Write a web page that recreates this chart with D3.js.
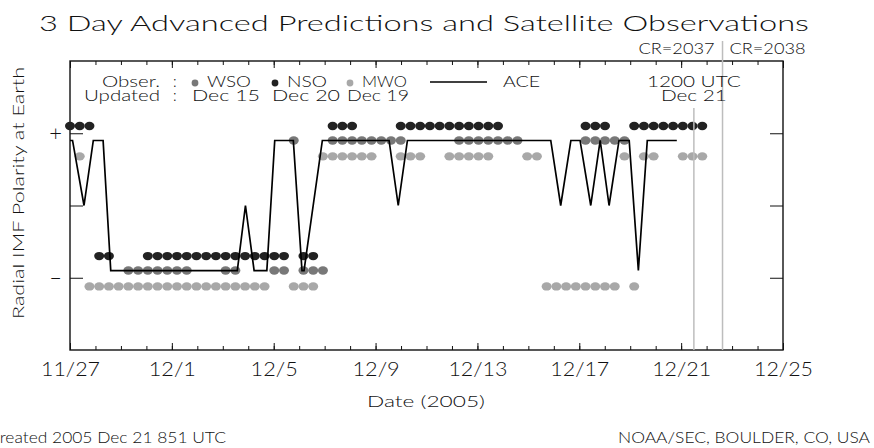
<!DOCTYPE html>
<html>
<head>
<meta charset="utf-8">
<script src="https://cdn.jsdelivr.net/npm/d3@7"></script>
<style>
  body { margin: 0; background: #fff; }
  svg { display: block; }
  text { font-family: "Lato", "DejaVu Sans", sans-serif; font-weight: 300; fill: #111; }
</style>
</head>
<body>
<svg id="chart" width="874" height="448"></svg>
<script>
// Time axis: 2005-11-27 00 UTC to 2005-12-25 00 UTC
const startDate = new Date(Date.UTC(2005, 10, 27));
const endDate = new Date(Date.UTC(2005, 11, 25));

// Observatory predictions, one value per 5-degree Carrington step starting at 11/27 00 UTC
// (+1 away / -1 toward, 0 = no prediction)
const sampleDays = 0.382;
const wsoPolarity = [
   0, 0, 0, 0, 0, 0,-1,-1,-1,-1,
  -1,-1,-1, 0, 0, 0,-1,-1, 0, 0,
   0,-1,-1, 1,-1,-1,-1, 1, 1, 1,
   1, 1, 1, 1, 1, 0, 0, 0, 0, 0,
   1, 1, 1, 1, 1, 1, 1, 0, 0, 0,
   0, 0, 0, 1, 1, 1, 1, 1, 0, 0,
   0, 0, 0, 0, 0, 0
];
const nsoPolarity = [
   1, 1, 1,-1,-1, 0, 0, 0,-1,-1,
  -1,-1,-1,-1,-1,-1,-1,-1,-1,-1,
  -1,-1,-1, 0,-1,-1, 0, 1, 1, 1,
   0, 0, 0, 0, 1, 1, 1, 1, 1, 1,
   1, 1, 1, 1, 1, 0, 0, 0, 0, 0,
   0, 0, 0, 1, 1, 1, 0, 0, 1, 1,
   1, 1, 1, 1, 1, 1
];
const mwoPolarity = [
   0, 1,-1,-1,-1,-1,-1,-1,-1,-1,
  -1,-1,-1,-1,-1,-1,-1,-1,-1,-1,
  -1, 0, 0,-1,-1,-1, 1, 1, 1, 1,
   1, 1, 0, 0, 1, 1, 1, 0, 0, 1,
   1, 1, 1, 1, 0, 0, 0, 1, 1,-1,
  -1,-1,-1,-1,-1,-1,-1, 1,-1, 1,
   1, 0, 0, 1, 1, 1
];

// ACE observed polarity: days after 11/27 00 UTC and polarity level
const aceDays = [0, 0.1, 0.55, 0.915, 1.30, 1.60, 6.57, 6.89, 7.23, 7.73, 8.04, 8.77, 9.11, 9.19, 9.91,
                 12.53, 12.89, 13.25, 18.88, 19.27, 19.67, 20.03, 20.45, 20.82, 21.17, 21.56, 21.96,
                 22.32, 22.67, 23.83];
const acePolarity = [0.9, 0.9, 0, 0.9, 0.9, -0.9, -0.9, 0, -0.9, -0.9, 0.9, 0.9, -0.9, -0.9, 0.9,
                     0.9, 0, 0.9, 0.9, 0, 0.9, 0.9, 0, 0.9, 0, 0.9, 0.9,
                     -0.9, 0.9, 0.9];

const tickDates = ["2005-11-27", "2005-12-01", "2005-12-05", "2005-12-09", "2005-12-13",
                   "2005-12-17", "2005-12-21", "2005-12-25"];
const nowTime = "2005-12-21T12:00";       // 1200 UTC Dec 21
const crBoundary = "2005-12-22T15:00";    // CR 2037 / CR 2038

const series = [
  { name: "WSO", values: wsoPolarity, color: "#787878", offset: 0,     updated: "Dec 15" },
  { name: "NSO", values: nsoPolarity, color: "#222222", offset: 0.2,   updated: "Dec 20" },
  { name: "MWO", values: mwoPolarity, color: "#a8a8a8", offset: -0.22, updated: "Dec 19" }
];

const svg = d3.select("#chart");
const L = 70, R = 783, T = 61, B = 350;
const x = d3.scaleUtc().domain([startDate, endDate]).range([L, R]);
const y = d3.scaleLinear().domain([-2, 2]).range([B, T]);
const parseDay = d3.utcParse("%Y-%m-%d");
const parseTime = d3.utcParse("%Y-%m-%dT%H:%M");
const atDay = t => new Date(startDate.getTime() + t * 864e5);

function fit(sel, w) {
  return sel.attr("textLength", w).attr("lengthAdjust", "spacingAndGlyphs");
}

// Title and CR labels
svg.append("text").attr("x", 424).attr("y", 31).attr("text-anchor", "middle")
  .attr("font-size", 22).call(fit, 770)
  .text("3 Day Advanced Predictions and Satellite Observations");
const crX = x(parseTime(crBoundary));
svg.append("text").attr("x", crX - 8).attr("y", 54).attr("text-anchor", "end")
  .attr("font-size", 15).call(fit, 76).text("CR=2037");
svg.append("text").attr("x", crX + 7).attr("y", 54)
  .attr("font-size", 15).call(fit, 76).text("CR=2038");

// Axes: day ticks and 4-day labelled ticks, pointing into the frame
const minorDays = d3.utcDay.range(startDate, new Date(endDate.getTime() + 1));
const majorDays = tickDates.map(parseDay);
function styleAxis(g) {
  g.select(".domain").remove();
  g.selectAll("line").attr("stroke", "#111").attr("stroke-width", 1);
}
svg.append("g").attr("transform", `translate(0,${B})`)
  .call(d3.axisBottom(x).tickValues(minorDays).tickSizeInner(-4).tickSizeOuter(0).tickFormat(""))
  .call(styleAxis);
const xAxis = svg.append("g").attr("transform", `translate(0,${B})`)
  .call(d3.axisBottom(x).tickValues(majorDays).tickSizeInner(-7).tickSizeOuter(0).tickPadding(12)
        .tickFormat(d3.utcFormat("%-m/%-d")))
  .call(styleAxis);
xAxis.selectAll("text").attr("font-size", 20).attr("fill", "#111")
  .attr("font-family", null)
  .attr("textLength", function() { return this.textContent.length * 11.8; })
  .attr("lengthAdjust", "spacingAndGlyphs");
svg.append("g").attr("transform", `translate(0,${T})`)
  .call(d3.axisTop(x).tickValues(minorDays).tickSizeInner(-4).tickSizeOuter(0).tickFormat(""))
  .call(styleAxis);
svg.append("g").attr("transform", `translate(0,${T})`)
  .call(d3.axisTop(x).tickValues(majorDays).tickSizeInner(-7).tickSizeOuter(0).tickFormat(""))
  .call(styleAxis);

const yAxis = svg.append("g").attr("transform", `translate(${L},0)`)
  .call(d3.axisLeft(y).tickValues([-1, 0, 1]).tickSizeInner(-13).tickSizeOuter(0).tickPadding(8)
        .tickFormat(v => v > 0 ? "+" : v < 0 ? "\u2013" : ""))
  .call(styleAxis);
yAxis.selectAll("text").attr("font-size", 22).attr("fill", "#111").attr("font-family", null);
svg.append("g").attr("transform", `translate(${R},0)`)
  .call(d3.axisRight(y).tickValues([-1, 0, 1]).tickSizeInner(-13).tickSizeOuter(0).tickFormat(""))
  .call(styleAxis);

// Frame
svg.append("rect").attr("x", L).attr("y", T).attr("width", R - L).attr("height", B - T)
  .attr("fill", "none").attr("stroke", "#111").attr("stroke-width", 1.4);

// Axis titles and footer
svg.append("text").attr("transform", "translate(24,193) rotate(-90)").attr("text-anchor", "middle")
  .attr("font-size", 16).call(fit, 252)
  .text("Radial IMF Polarity at Earth");
svg.append("text").attr("x", 426).attr("y", 407).attr("text-anchor", "middle")
  .attr("font-size", 16).call(fit, 118)
  .text("Date (2005)");
svg.append("text").attr("x", -12).attr("y", 443)
  .attr("font-size", 15).call(fit, 238)
  .text("Created 2005 Dec 21 851 UTC");
svg.append("text").attr("x", 870).attr("y", 443).attr("text-anchor", "end")
  .attr("font-size", 15).call(fit, 252)
  .text("NOAA/SEC, BOULDER, CO, USA");

// Observatory prediction dots
series.forEach(s => {
  const pts = s.values.map((p, k) => ({ k, p })).filter(d => d.p !== 0);
  svg.append("g").selectAll("ellipse").data(pts).join("ellipse")
    .attr("cx", d => x(atDay(d.k * sampleDays)))
    .attr("cy", d => y(d.p * 0.9 + s.offset))
    .attr("rx", 5).attr("ry", 4.2)
    .attr("fill", s.color);
});

// Reference lines: current time and Carrington rotation boundary
const nowX = x(parseTime(nowTime));
svg.append("line").attr("x1", nowX).attr("x2", nowX).attr("y1", 108).attr("y2", B)
  .attr("stroke", "#bdbdbd").attr("stroke-width", 1.5);
svg.append("line").attr("x1", crX).attr("x2", crX).attr("y1", 41).attr("y2", B)
  .attr("stroke", "#bdbdbd").attr("stroke-width", 1.5);

// ACE observed polarity line
const aceData = aceDays.map((t, i) => ({ t: atDay(t), v: acePolarity[i] }));
svg.append("path").datum(aceData)
  .attr("fill", "none").attr("stroke", "#000").attr("stroke-width", 1.7)
  .attr("d", d3.line().x(d => x(d.t)).y(d => y(d.v)));

// Legend
const lg = svg.append("g").attr("font-size", 15);
lg.append("text").attr("x", 160).attr("y", 87).attr("text-anchor", "end").call(fit, 58).text("Obser.");
lg.append("text").attr("x", 160).attr("y", 101).attr("text-anchor", "end").call(fit, 76).text("Updated");
lg.append("text").attr("x", 173).attr("y", 87).text(":");
lg.append("text").attr("x", 173).attr("y", 101).text(":");
const legX = [195, 275, 350];
const nameW = [44, 40, 45];
const updW = [68, 68, 62];
series.forEach((s, i) => {
  lg.append("circle").attr("cx", legX[i]).attr("cy", 83).attr("r", 3.4).attr("fill", s.color);
  lg.append("text").attr("x", legX[i] + 12).attr("y", 87).call(fit, nameW[i]).text(s.name);
  lg.append("text").attr("x", legX[i] - 3).attr("y", 101).call(fit, updW[i]).text(s.updated);
});
lg.append("line").attr("x1", 430).attr("x2", 487).attr("y1", 82).attr("y2", 82)
  .attr("stroke", "#000").attr("stroke-width", 1.7);
lg.append("text").attr("x", 503).attr("y", 87).call(fit, 37).text("ACE");
lg.append("text").attr("x", nowX).attr("y", 87).attr("text-anchor", "middle").call(fit, 94).text("1200 UTC");
lg.append("text").attr("x", nowX).attr("y", 101).attr("text-anchor", "middle").call(fit, 66).text("Dec 21");
</script>
</body>
</html>
